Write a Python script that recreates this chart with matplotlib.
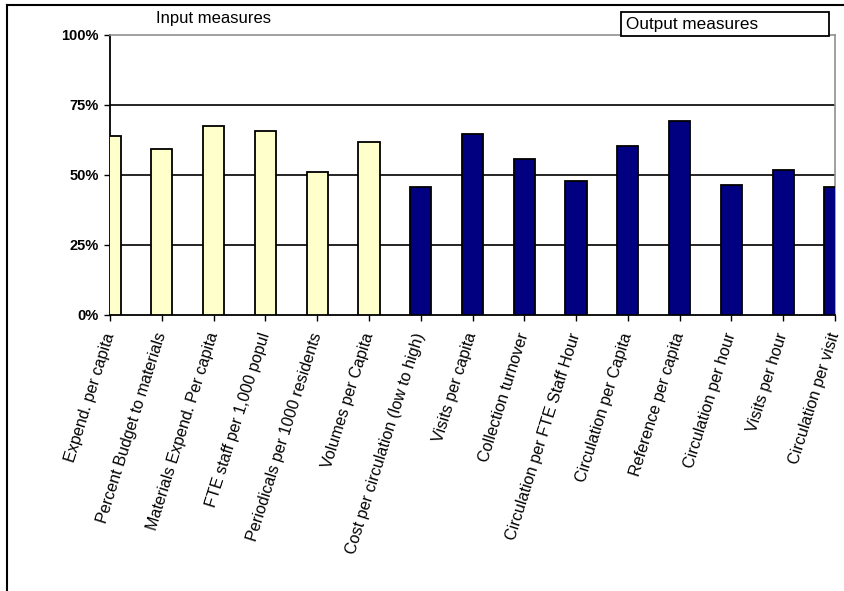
import numpy as np
import matplotlib
matplotlib.use("Agg")
import matplotlib.pyplot as plt
from matplotlib.lines import Line2D
from matplotlib.patches import Rectangle
from matplotlib.ticker import PercentFormatter

plt.rcParams['font.family'] = ['Liberation Sans', 'DejaVu Sans']

# Data
input_labels = ['Expend. per capita', 'Percent Budget to materials', 'Materials Expend. Per capita',
                'FTE staff per 1,000 popul', 'Periodicals per 1000 residents', 'Volumes per Capita']
input_values = [0.639, 0.592, 0.674, 0.658, 0.510, 0.618]
output_labels = ['Cost per circulation (low to high)', 'Visits per capita', 'Collection turnover',
                 'Circulation per FTE Staff Hour', 'Circulation per Capita', 'Reference per capita',
                 'Circulation per hour', 'Visits per hour', 'Circulation per visit']
output_values = [0.457, 0.646, 0.558, 0.479, 0.605, 0.693, 0.464, 0.518, 0.457]
yticks = [0, 0.25, 0.5, 0.75, 1.0]

W, H = 844, 591
fig = plt.figure(figsize=(W / 100, H / 100), dpi=100)
ax = fig.add_axes([110 / W, 1 - 315 / H, (835 - 110) / W, (315 - 35) / H])

labels = input_labels + output_labels
x_in = np.arange(len(input_values))
x_out = np.arange(len(output_values)) + len(input_values)
ax.bar(x_in, input_values, width=0.41, color='#FFFFCC', edgecolor='black', linewidth=1.3, zorder=3)
ax.bar(x_out, output_values, width=0.41, color='#000080', edgecolor='black', linewidth=1.3, zorder=3)

ax.set_xlim(0, len(labels) - 1)
ax.set_ylim(0, 1)
ax.set_yticks(yticks)
ax.yaxis.set_major_formatter(PercentFormatter(1.0, decimals=0))
for y in yticks[1:-1]:
    ax.axhline(y, color='black', linewidth=1.2, zorder=1)

ax.set_xticks(np.arange(len(labels)))
ax.set_xticklabels(labels, rotation=72.5, ha='right', va='center', rotation_mode='anchor', fontsize=11.6)
ax.tick_params(axis='x', length=4, width=1, pad=9)
ax.tick_params(axis='y', length=4, width=1, pad=4, labelsize=10.5)
for lbl in ax.get_yticklabels():
    lbl.set_fontweight('bold')

for side in ['left', 'bottom']:
    ax.spines[side].set_color('black')
    ax.spines[side].set_linewidth(1.3)
for side in ['top', 'right']:
    ax.spines[side].set_color('#909090')
    ax.spines[side].set_linewidth(1.2)

# headings
fig.text(156 / W, 1 - 19 / H, 'Input measures', fontsize=12, ha='left', va='center')
fig.patches.append(Rectangle((621 / W, 1 - 36 / H), (829 - 621) / W, 24 / H,
                             transform=fig.transFigure, fill=True, facecolor='white',
                             edgecolor='black', linewidth=1.3, zorder=5))
fig.text(626 / W, 1 - 24 / H, 'Output measures', fontsize=12.3, ha='left', va='center', zorder=6)

# outer frame of chart area
fig.lines.append(Line2D([7 / W, 1], [1 - 5 / H, 1 - 5 / H], transform=fig.transFigure,
                        color='black', linewidth=1.5))
fig.lines.append(Line2D([7 / W, 7 / W], [0, 1 - 5 / H], transform=fig.transFigure,
                        color='black', linewidth=1.5))

fig.savefig('out.png', dpi=100)
